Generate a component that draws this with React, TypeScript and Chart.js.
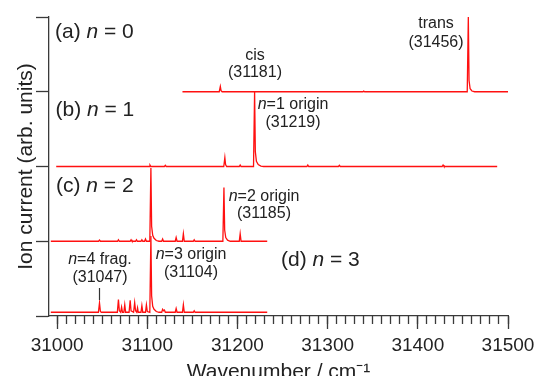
import React, { useEffect, useRef } from 'react';
import { Chart, registerables } from 'chart.js';

Chart.register(...registerables);

// ---- data (wavenumber, relative intensity) ----
const n0Spectrum: [number, number][] = [
  [31139, 0], [31179.8, 0], [31181, 0.07], [31181.8, 0.015], [31183, 0],
  [31339, 0], [31340, 0.008], [31341, 0],
  [31454.8, 0], [31456, 1.0], [31456.8, 0.15], [31458, 0.04], [31460, 0.01], [31463, 0],
  [31500, 0],
];

const n1Spectrum: [number, number][] = [
  [30999, 0], [31102, 0], [31103, 0.02], [31104, 0], [31119, 0], [31120, 0.015], [31121, 0],
  [31184.8, 0], [31186, 0.12], [31186.8, 0.025], [31188, 0],
  [31202, 0], [31203, 0.02], [31204, 0],
  [31217.8, 0], [31219, 1.0], [31219.8, 0.2], [31221, 0.07], [31223, 0.025], [31226, 0.005], [31229, 0],
  [31277, 0], [31278, 0.02], [31279, 0], [31312, 0], [31313, 0.015], [31314, 0],
  [31427, 0], [31428, 0.02], [31429, 0], [31488, 0],
];

const n2Spectrum: [number, number][] = [
  [30993, 0], [31046, 0], [31047, 0.015], [31048, 0], [31067, 0], [31068, 0.02], [31069, 0],
  [31081, 0], [31082, 0.02], [31083, 0], [31087, 0], [31088, 0.02], [31089, 0],
  [31093, 0], [31094, 0.02], [31095, 0], [31097, 0], [31098, 0.03], [31099, 0],
  [31102.8, 0], [31104, 0.98], [31104.8, 0.2], [31106, 0.08], [31107.5, 0.04], [31110, 0.01], [31113, 0],
  [31116, 0], [31117, 0.03], [31118, 0], [31131, 0], [31132, 0.05], [31133, 0],
  [31139, 0], [31140, 0.1], [31141, 0], [31151, 0], [31152, 0.02], [31153, 0],
  [31183.8, 0], [31185, 0.72], [31185.8, 0.15], [31187, 0.05], [31189, 0.015], [31192, 0],
  [31202, 0], [31203, 0.1], [31204, 0], [31233, 0],
];

const n3Spectrum: [number, number][] = [
  [30993, 0], [31045.8, 0], [31047, 0.125], [31048, 0.01], [31049, 0],
  [31066.8, 0], [31068, 0.17], [31069, 0.02], [31070.5, 0], [31071.5, 0.07], [31072.5, 0],
  [31074, 0], [31075, 0.1], [31076, 0], [31079.8, 0], [31081, 0.16], [31082, 0.02],
  [31084.8, 0], [31086, 0.13], [31087, 0.02], [31088.3, 0], [31089.2, 0.06], [31090, 0],
  [31093, 0], [31094, 0.09], [31095, 0], [31098, 0], [31099, 0.1], [31100, 0.01],
  [31102.8, 0], [31104, 1.02], [31104.8, 0.22], [31106, 0.08], [31107.5, 0.04], [31110, 0.01], [31113, 0],
  [31116, 0], [31117, 0.04], [31118, 0.02], [31119, 0.03], [31120, 0],
  [31131, 0], [31132, 0.05], [31133, 0], [31139, 0], [31140, 0.1], [31141, 0],
  [31151, 0], [31152, 0.02], [31153, 0], [31233, 0],
];

const spectra = [n0Spectrum, n1Spectrum, n2Spectrum, n3Spectrum];
const spectrumNames = ['n = 0', 'n = 1', 'n = 2', 'n = 3'];
const baselineOffsets = [3, 2, 1, 0.05];

const xMajorTicks = [31000, 31100, 31200, 31300, 31400, 31500];
const yTickValues = [0, 1, 2, 3, 4];

const xTitle = 'Wavenumber / cm\u207B\u00B9';
const yTitle = 'Ion current (arb. units)';

type Seg = { t: string; i?: boolean };
const panelLabels: Seg[][] = [
  [{ t: '(a) ' }, { t: 'n', i: true }, { t: ' = 0' }],
  [{ t: '(b) ' }, { t: 'n', i: true }, { t: ' = 1' }],
  [{ t: '(c) ' }, { t: 'n', i: true }, { t: ' = 2' }],
  [{ t: '(d) ' }, { t: 'n', i: true }, { t: ' = 3' }],
];
const peakNotes: Seg[][][] = [
  [[{ t: 'cis' }], [{ t: '(31181)' }]],
  [[{ t: 'trans' }], [{ t: '(31456)' }]],
  [[{ t: 'n', i: true }, { t: '=1 origin' }], [{ t: '(31219)' }]],
  [[{ t: 'n', i: true }, { t: '=2 origin' }], [{ t: '(31185)' }]],
  [[{ t: 'n', i: true }, { t: '=4 frag.' }], [{ t: '(31047)' }]],
  [[{ t: 'n', i: true }, { t: '=3 origin' }], [{ t: '(31104)' }]],
];

// ---- layout / style ----
const FONT = '"Liberation Sans", Arial, Helvetica, sans-serif';
const AXIS = '#3a3a3a';
const TEXT = '#222222';
const RED = '#ff1010';

const panelPos = [
  { x: 55, y: 32 },
  { x: 55.5, y: 110 },
  { x: 56, y: 186 },
  { x: 281, y: 260 },
];
const notePos = [
  { x: 255, y1: 56, y2: 73 },
  { x: 436, y1: 24, y2: 43 },
  { x: 293, y1: 105, y2: 123 },
  { x: 264, y1: 197, y2: 214 },
  { x: 100, y1: 260, y2: 278 },
  { x: 191, y1: 255, y2: 273 },
];

function drawRich(ctx: CanvasRenderingContext2D, segs: Seg[], x: number, y: number, align: 'left' | 'center', size: number) {
  const fn = `${size}px ${FONT}`;
  const fi = `italic ${size}px ${FONT}`;
  const widths = segs.map((s) => {
    ctx.font = s.i ? fi : fn;
    return ctx.measureText(s.t).width;
  });
  const total = widths.reduce((a, b) => a + b, 0);
  let cx = align === 'left' ? x : x - total / 2;
  ctx.textAlign = 'left';
  ctx.textBaseline = 'middle';
  ctx.fillStyle = TEXT;
  segs.forEach((s, k) => {
    ctx.font = s.i ? fi : fn;
    ctx.fillText(s.t, cx, y);
    cx += widths[k];
  });
}

const annotationPlugin = {
  id: 'annots',
  afterDraw(chart: any) {
    const ctx: CanvasRenderingContext2D = chart.ctx;
    ctx.save();
    panelLabels.forEach((segs, k) => drawRich(ctx, segs, panelPos[k].x, panelPos[k].y, 'left', 21));
    peakNotes.forEach((lines, k) => {
      drawRich(ctx, lines[0], notePos[k].x, notePos[k].y1, 'center', 16);
      drawRich(ctx, lines[1], notePos[k].x, notePos[k].y2, 'center', 16);
    });
    // marker under n=4 frag.
    const xs = chart.scales.x;
    const px = Math.round(xs.getPixelForValue(31047)) + 0.5;
    ctx.strokeStyle = '#333';
    ctx.lineWidth = 1.2;
    ctx.beginPath();
    ctx.moveTo(px, 288);
    ctx.lineTo(px, 300);
    ctx.stroke();
    ctx.restore();
  },
};

export default function App() {
  const ref = useRef<HTMLCanvasElement | null>(null);
  useEffect(() => {
    if (!ref.current) return;
    const datasets = spectra.map((pts, k) => ({
      label: spectrumNames[k],
      data: pts.map(([x, y]) => ({ x, y: y + baselineOffsets[k] })),
      borderColor: RED,
      backgroundColor: RED,
      borderWidth: 1.3,
      pointRadius: 0,
      tension: 0,
      fill: false,
    }));
    const chart = new Chart(ref.current, {
      type: 'line',
      data: { datasets },
      plugins: [annotationPlugin],
      options: {
        animation: false,
        responsive: false,
        devicePixelRatio: 1,
        layout: { padding: { left: 0, top: 17, right: 34, bottom: 0 } },
        plugins: { legend: { display: false }, tooltip: { enabled: false } },
        scales: {
          xMinor: {
            type: 'linear',
            position: 'bottom',
            min: 30991,
            max: 31500,
            weight: 0,
            afterFit: (s: any) => { s.height = 0; },
            ticks: { display: false, stepSize: 10, includeBounds: false },
            grid: { drawOnChartArea: false, drawTicks: true, tickLength: 8, tickColor: AXIS, tickWidth: 1.3 },
            border: { display: false },
          },
          x: {
            type: 'linear',
            position: 'bottom',
            min: 30991,
            max: 31500,
            weight: 1,
            afterBuildTicks: (s: any) => { s.ticks = xMajorTicks.map((v) => ({ value: v })); },
            afterFit: (s: any) => { s.height = 60; },
            ticks: {
              autoSkip: false,
              maxRotation: 0,
              padding: 5,
              color: TEXT,
              font: { size: 19, family: FONT },
              callback: (v: any) => String(v),
            },
            grid: { drawOnChartArea: false, drawTicks: true, tickLength: 13, tickColor: AXIS, tickWidth: 1.3 },
            border: { display: true, color: AXIS, width: 1.3 },
            title: {
              display: true,
              text: xTitle,
              color: TEXT,
              font: { size: 21, family: FONT },
              padding: { top: 0, bottom: -9.3 },
            },
          },
          y: {
            type: 'linear',
            position: 'left',
            min: 0,
            max: 4,
            afterBuildTicks: (s: any) => { s.ticks = yTickValues.map((v) => ({ value: v })); },
            afterFit: (s: any) => { s.width = 49; },
            ticks: { display: false },
            grid: { drawOnChartArea: false, drawTicks: true, tickLength: 13, tickColor: AXIS, tickWidth: 1.3 },
            border: { display: true, color: AXIS, width: 1.3 },
            title: {
              display: true,
              text: yTitle,
              color: TEXT,
              font: { size: 21, family: FONT },
              padding: { top: 13.4, bottom: 0 },
            },
          },
        },
      } as any,
    });
    return () => chart.destroy();
  }, []);
  return (
    <div style={{ position: 'fixed', left: 0, top: 0, width: 542, height: 376, background: '#fff' }}>
      <canvas ref={ref} width={542} height={376} style={{ width: 542, height: 376, display: 'block' }} />
    </div>
  );
}
